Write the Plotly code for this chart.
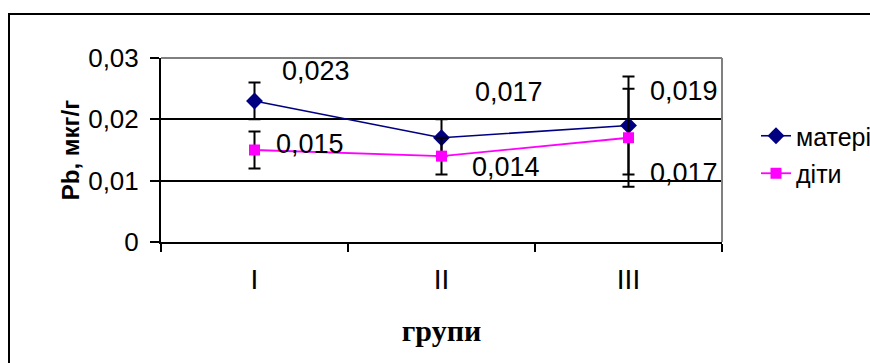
import plotly.graph_objects as go

# Lead (Pb) content by group, mothers vs children
groups = ["I", "II", "III"]
mothers = [0.023, 0.017, 0.019]
children = [0.015, 0.014, 0.017]
mothers_err = [0.003, 0.003, 0.008]
children_err = [0.003, 0.003, 0.008]
y_ticks = [0, 0.01, 0.02, 0.03]

# plot-area geometry in pixels (used for paper-coordinate conversion)
W, H = 870, 363
L, R, T, B = 161, 722, 58, 242
pw, ph = R - L, B - T


def px_x(px):
    return (px - L) / pw


def px_y(py):
    return (B - py) / ph


def fmt(v):
    return f"{v:.3f}".replace(".", ",")


fig = go.Figure()

fig.add_trace(go.Scatter(
    x=groups, y=mothers, name="матері", mode="lines+markers",
    line=dict(color="#000080", width=1.6),
    marker=dict(symbol="diamond", size=13, color="#000080"),
    error_y=dict(type="data", array=mothers_err, color="black",
                 thickness=2, width=6),
    legendgroup="m", cliponaxis=False,
))
fig.add_trace(go.Scatter(
    x=groups, y=children, name="діти", mode="lines+markers",
    line=dict(color="#FF00FF", width=1.8),
    marker=dict(symbol="square", size=11, color="#FF00FF"),
    error_y=dict(type="data", array=children_err, color="black",
                 thickness=2, width=6),
    legendgroup="c", cliponaxis=False,
))

# value labels beside each point (pixel offsets)
label_font = dict(family="Liberation Sans, Arial", size=27, color="black")
m_off = [(61, 30), (67, 46), (55, 34)]
c_off = [(55, 6), (64, -11), (55, -35)]
for g, v, (dx, dy) in zip(groups, mothers, m_off):
    fig.add_annotation(x=g, y=v, text=fmt(v), showarrow=False,
                       xshift=dx, yshift=dy, font=label_font)
for g, v, (dx, dy) in zip(groups, children, c_off):
    fig.add_annotation(x=g, y=v, text=fmt(v), showarrow=False,
                       xshift=dx, yshift=dy, font=label_font)

# gray plot-area border (top and right) and outer chart frame
fig.add_shape(type="line", xref="paper", yref="paper", x0=0, x1=1, y0=1, y1=1,
              line=dict(color="#808080", width=2), layer="above")
fig.add_shape(type="line", xref="paper", yref="paper", x0=1, x1=1, y0=0, y1=1,
              line=dict(color="#808080", width=2), layer="above")
fig.add_shape(type="rect", xref="paper", yref="paper",
              x0=px_x(9), x1=px_x(900), y0=px_y(400), y1=px_y(14),
              line=dict(color="black", width=2), layer="above")

fig.update_layout(
    width=W, height=H,
    margin=dict(l=L, r=W - R, t=T, b=H - B, autoexpand=False),
    paper_bgcolor="white", plot_bgcolor="white",
    separators=", ",
    font=dict(family="Liberation Sans, Arial", color="black"),
    showlegend=True,
    legend=dict(
        x=px_x(756), y=px_y(113), xanchor="left", yanchor="top",
        font=dict(size=25, family="Liberation Sans, Arial"),
        tracegroupgap=2, bgcolor="rgba(0,0,0,0)", borderwidth=0,
    ),
    xaxis=dict(
        type="category", range=[-0.5, 2.5],
        tickson="boundaries", ticks="outside", ticklen=8, tickwidth=2,
        tickcolor="black", showline=True, linecolor="black", linewidth=2,
        showgrid=False, zeroline=False,
        tickfont=dict(size=28, family="Liberation Sans, Arial"),
        ticklabelstandoff=11,
        title=dict(text="<b>групи</b>", standoff=26,
                   font=dict(size=30, family="Liberation Serif, Times New Roman")),
    ),
    yaxis=dict(
        range=[0, 0.03], tickvals=y_ticks, ticks="outside", ticklen=9,
        tickwidth=1.5, tickcolor="black", showline=True, linecolor="black",
        linewidth=2, showgrid=True, gridcolor="black", gridwidth=1.5,
        zeroline=False,
        tickfont=dict(size=26, family="Liberation Sans, Arial"),
        ticklabelstandoff=6,
        title=dict(text="<b>Pb, мкг/г</b>", standoff=2,
                   font=dict(size=24, family="Liberation Sans, Arial")),
    ),
    yaxis2=dict(
        range=[0, 0.03], tickvals=y_ticks, overlaying="y", side="left",
        ticks="inside", ticklen=9, tickwidth=1.5, tickcolor="black",
        showticklabels=False, showgrid=False, showline=False, zeroline=False,
    ),
)

# invisible trace to bring the inside-tick axis into the figure
fig.add_trace(go.Scatter(x=groups, y=mothers, yaxis="y2", mode="markers",
                         marker=dict(opacity=0), showlegend=False,
                         hoverinfo="skip"))

fig.write_html("out.html")
